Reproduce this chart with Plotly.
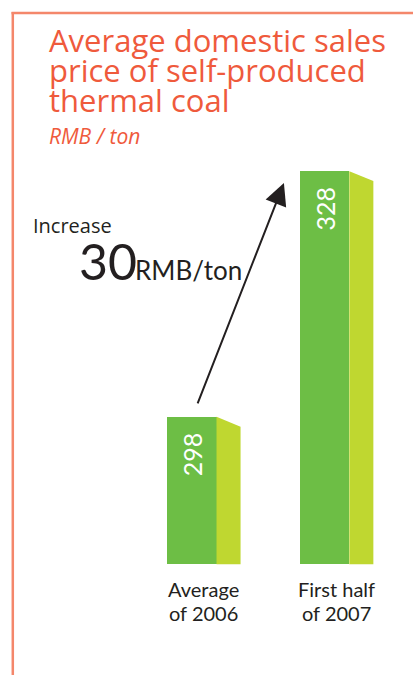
import plotly.graph_objects as go

# ---- data ----
categories = ["Average<br>of 2006", "First half<br>of 2007"]
values = [298, 328]
value_labels = ["298", "328"]
title_lines = ["Average domestic sales", "price of self-produced", "thermal coal"]
unit_label = "RMB / ton"
increase_label = "Increase"
increase_value = "30"
increase_unit = "RMB/ton"

# ---- layout constants ----
W, H = 413, 675
BASE = 280            # value at the bars' baseline
Y_RANGE = [266.48, 348.9]
X_RANGE = [-1.444, 1.666]
BAR_W = 0.373
SIDE_W = 0.181
SIDE_DROP = 1.2
FRONT = "#6DBE45"
SIDE = "#BFD730"
RED = "#EF5A3C"
BORDER = "#F4876B"
DARK = "#231F20"


def py(p):
    return 1 - p / H


def px(p):
    return p / W


fig = go.Figure()
xs = list(range(len(values)))

fig.add_trace(go.Bar(
    x=xs, y=[v - BASE for v in values], base=BASE, width=BAR_W,
    marker=dict(color=FRONT, line=dict(width=0)), hoverinfo="skip",
))

for i, v in zip(xs, values):
    xr = i + BAR_W / 2
    fig.add_trace(go.Scatter(
        x=[xr, xr + SIDE_W, xr + SIDE_W, xr, xr],
        y=[BASE, BASE, v - SIDE_DROP, v, BASE],
        fill="toself", fillcolor=SIDE, mode="lines",
        line=dict(width=0, color=SIDE), hoverinfo="skip",
    ))

annotations = []
# value labels inside bars (rotated)
for i, v, t in zip(xs, values, value_labels):
    annotations.append(dict(
        x=i, y=v - 4.6, xref="x", yref="y", text=t, showarrow=False,
        textangle=-90, xanchor="center", yanchor="middle",
        font=dict(family="Lato", size=25, color="white"),
    ))
# category labels (one annotation per line)
for i, c in zip(xs, categories):
    for k, part in enumerate(c.split("<br>")):
        annotations.append(dict(
            x=i + SIDE_W / 2, y=BASE, xref="x", yref="y", text=part, showarrow=False,
            xanchor="center", yanchor="middle", yshift=-(25 + 24 * k),
            font=dict(family="Lato", size=20, color=DARK),
        ))

# title
for k, line in enumerate(title_lines):
    annotations.append(dict(
        x=px(47), y=py(40 + 30 * k), xref="paper", yref="paper", text=line,
        showarrow=False, xanchor="left", yanchor="middle",
        font=dict(family="Open Sans", size=31, color=RED),
    ))
annotations.append(dict(
    x=px(47), y=py(136), xref="paper", yref="paper", text="<i>" + unit_label + "</i>",
    showarrow=False, xanchor="left", yanchor="middle",
    font=dict(family="Open Sans", size=21, color=RED),
))

# increase callout
annotations.append(dict(
    x=px(31), y=py(226), xref="paper", yref="paper", text=increase_label,
    showarrow=False, xanchor="left", yanchor="middle",
    font=dict(family="Open Sans", size=20, color=DARK),
))
annotations.append(dict(
    x=px(77), y=py(261), xref="paper", yref="paper", text=increase_value,
    showarrow=False, xanchor="left", yanchor="middle",
    font=dict(family="Lato", size=50, color=DARK),
))
annotations.append(dict(
    x=px(133), y=py(270), xref="paper", yref="paper", text=increase_unit,
    showarrow=False, xanchor="left", yanchor="middle",
    font=dict(family="Lato", size=26, color=DARK),
))

# arrow from bar 1 to bar 2
annotations.append(dict(
    x=xs[1] - 0.306, y=values[1] - 1.44, ax=xs[0] + 0.04, ay=values[0] + 1.45,
    xref="x", yref="y", axref="x", ayref="y", text="", showarrow=True,
    arrowhead=2, arrowsize=2.2, arrowwidth=2, arrowcolor=DARK, standoff=0,
))

shapes = [
    dict(type="line", xref="paper", yref="paper", x0=px(12.8), x1=px(12.8),
         y0=py(12), y1=0, line=dict(color=BORDER, width=2.5)),
    dict(type="line", xref="paper", yref="paper", x0=px(11.5), x1=1,
         y0=py(13), y1=py(13), line=dict(color=BORDER, width=2.5)),
]

fig.update_layout(
    width=W, height=H, margin=dict(l=0, r=0, t=0, b=0),
    paper_bgcolor="white", plot_bgcolor="white", showlegend=False,
    xaxis=dict(range=X_RANGE, visible=False, fixedrange=True),
    yaxis=dict(range=Y_RANGE, visible=False, fixedrange=True),
    annotations=annotations, shapes=shapes, bargap=0,
)

fig.write_html("out.html", config={"displayModeBar": False})
